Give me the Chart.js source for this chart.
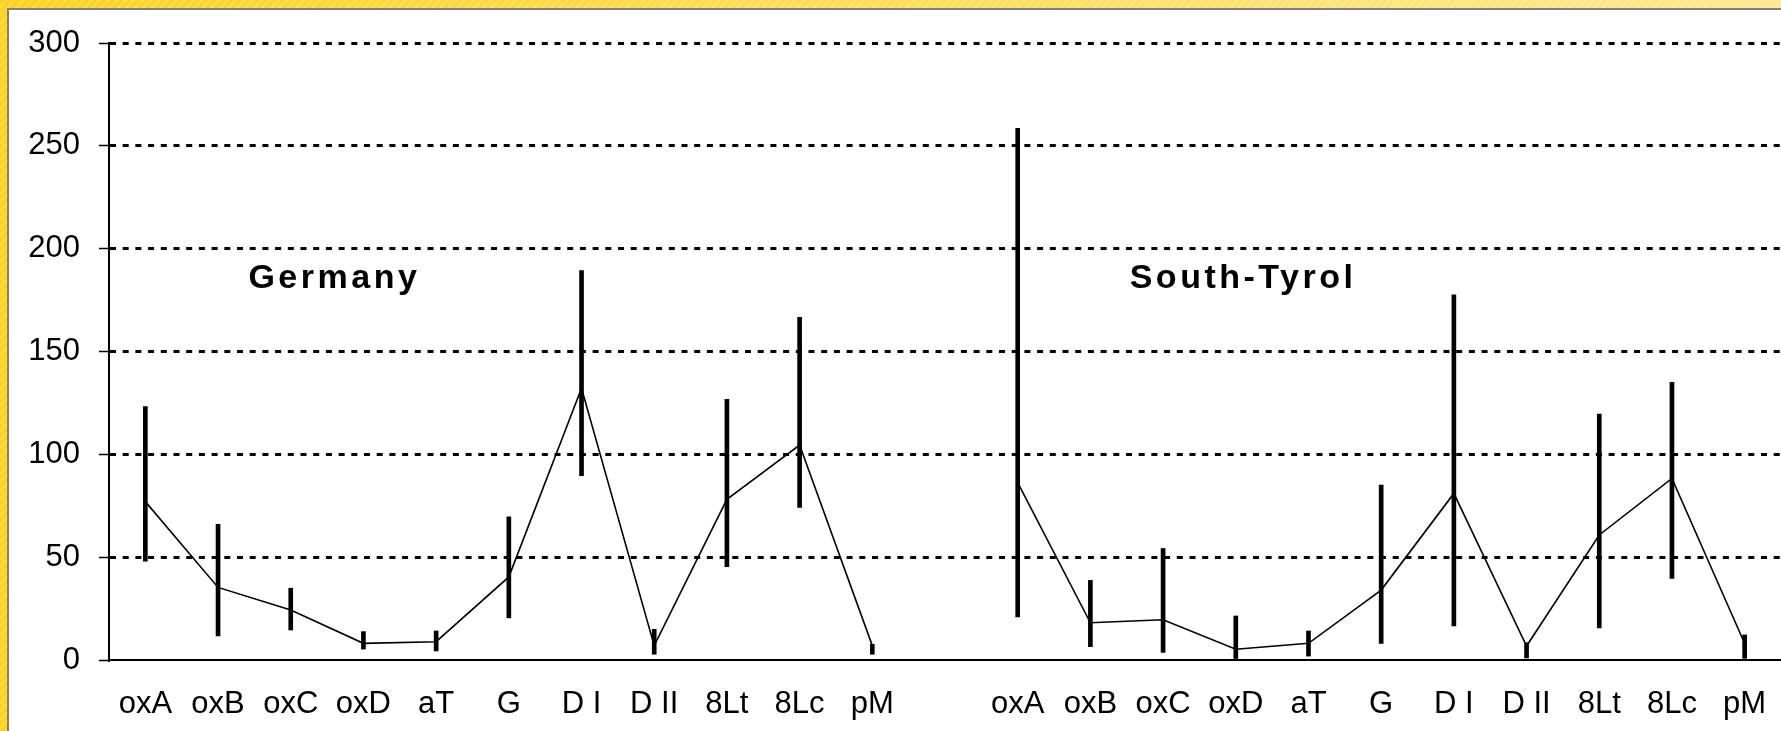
<!DOCTYPE html>
<html>
<head>
<meta charset="utf-8">
<script src="https://cdn.jsdelivr.net/npm/chart.js@4.4.1/dist/chart.umd.min.js"></script>
<style>
  html, body { margin: 0; padding: 0; width: 1781px; height: 731px; overflow: hidden; }
  body {
    background:
      linear-gradient(to right, rgba(255,255,255,0) 0%, rgba(255,255,255,0.5) 100%),
      repeating-linear-gradient(135deg, #ffd21f 0 4px, #ffdc4f 4px 6px);
  }
  #panel { position: absolute; left: 7px; top: 8px; right: 0; bottom: 0; background: #fff;
           border-left: 2px solid #7f7f7f; border-top: 2px solid #7f7f7f; }
  #wrap { position: absolute; left: 0; top: 0; width: 1781px; height: 731px; }
</style>
</head>
<body>
<div id="panel"></div>
<div id="wrap"><canvas id="chart"></canvas></div>
<script>
const categories = ['oxA', 'oxB', 'oxC', 'oxD', 'aT', 'G', 'D I', 'D II', '8Lt', '8Lc', 'pM'];
const groups = ['Germany', 'South-Tyrol'];

const germanyMean = [77, 35.3, 24.3, 8.1, 8.9, 40.4, 132.1, 7, 78.1, 104.5, 7];
const germanyLow  = [48.1, 11.7, 14.6, 5.3, 4.4, 20.5, 89.6, 2.8, 45.4, 74.2, 2.8];
const germanyHigh = [123.2, 66, 34.9, 13.8, 14.1, 69.6, 189.3, 14.9, 126.7, 166.6, 7.6];

const tyrolMean = [86.2, 18.1, 19.6, 5.2, 8.1, 34, 81, 6.8, 60.8, 88.3, 8];
const tyrolLow  = [20.9, 6.5, 3.7, 0, 1.9, 8.1, 16.6, 1, 15.6, 39.7, 0.8];
const tyrolHigh = [258.5, 38.7, 54.2, 21.4, 14.1, 85, 177.5, 8.4, 119.6, 135, 12.2];

const yTicks = [0, 50, 100, 150, 200, 250, 300];

// one empty slot separates the two regions
const labels = [...categories, '', ...categories];
const means = [...germanyMean, null, ...tyrolMean];
const lows = [...germanyLow, null, ...tyrolLow];
const highs = [...germanyHigh, null, ...tyrolHigh];
const ranges = lows.map((lo, i) => (lo === null ? null : [lo, highs[i]]));

const font = '"Liberation Sans", Arial, sans-serif';

// region names, placed on the scales
const groupTitles = {
  id: 'groupTitles',
  afterDraw(chart) {
    const { ctx } = chart;
    const x = chart.scales.x;
    const y = chart.scales.y;
    const spots = [2.6, 15.1];
    ctx.save();
    ctx.font = 'bold 34px ' + font;
    ctx.letterSpacing = '3.5px';
    ctx.fillStyle = '#000';
    ctx.textAlign = 'center';
    ctx.textBaseline = 'alphabetic';
    groups.forEach((name, i) => {
      ctx.fillText(name, x.getPixelForValue(spots[i]), y.getPixelForValue(181));
    });
    ctx.restore();
  }
};

new Chart(document.getElementById('chart'), {
  type: 'bar',
  data: {
    labels: labels,
    datasets: [
      {
        type: 'line',
        data: means,
        borderColor: '#000',
        borderWidth: 1.6,
        pointRadius: 0,
        tension: 0,
        spanGaps: false,
        order: 2
      },
      {
        type: 'bar',
        data: ranges,
        backgroundColor: '#000',
        borderWidth: 0,
        barThickness: 4,
        order: 1
      }
    ]
  },
  options: {
    responsive: true,
    maintainAspectRatio: false,
    animation: false,
    layout: { padding: { top: 43, right: 0, bottom: 0, left: 0 } },
    plugins: { legend: { display: false }, tooltip: { enabled: false } },
    scales: {
      x: {
        offset: true,
        // invisible tick marks push the labels down without adding side padding
        grid: { display: true, color: 'rgba(0,0,0,0)', drawTicks: true, tickLength: 26 },
        border: { display: true, color: '#000', width: 2 },
        ticks: { color: '#000', font: { family: font, size: 31 }, padding: 0, maxRotation: 0, autoSkip: false },
        afterFit(scale) { scale.height = 71; }
      },
      y: {
        min: 0,
        max: 300,
        afterBuildTicks(scale) { scale.ticks = yTicks.map(v => ({ value: v })); },
        grid: {
          color: ctx => (ctx.tick && ctx.tick.value === 0 ? 'rgba(0,0,0,0)' : '#000'),
          lineWidth: 3,
          tickColor: '#000',
          tickLength: 10,
          tickWidth: 1.5,
          tickBorderDash: []
        },
        border: { display: true, color: '#000', width: 2, dash: [6, 6.7] },
        ticks: { color: '#000', font: { family: font, size: 31 }, padding: 19 },
        afterFit(scale) { scale.width = 109; }
      }
    }
  },
  plugins: [groupTitles]
});
</script>
</body>
</html>
